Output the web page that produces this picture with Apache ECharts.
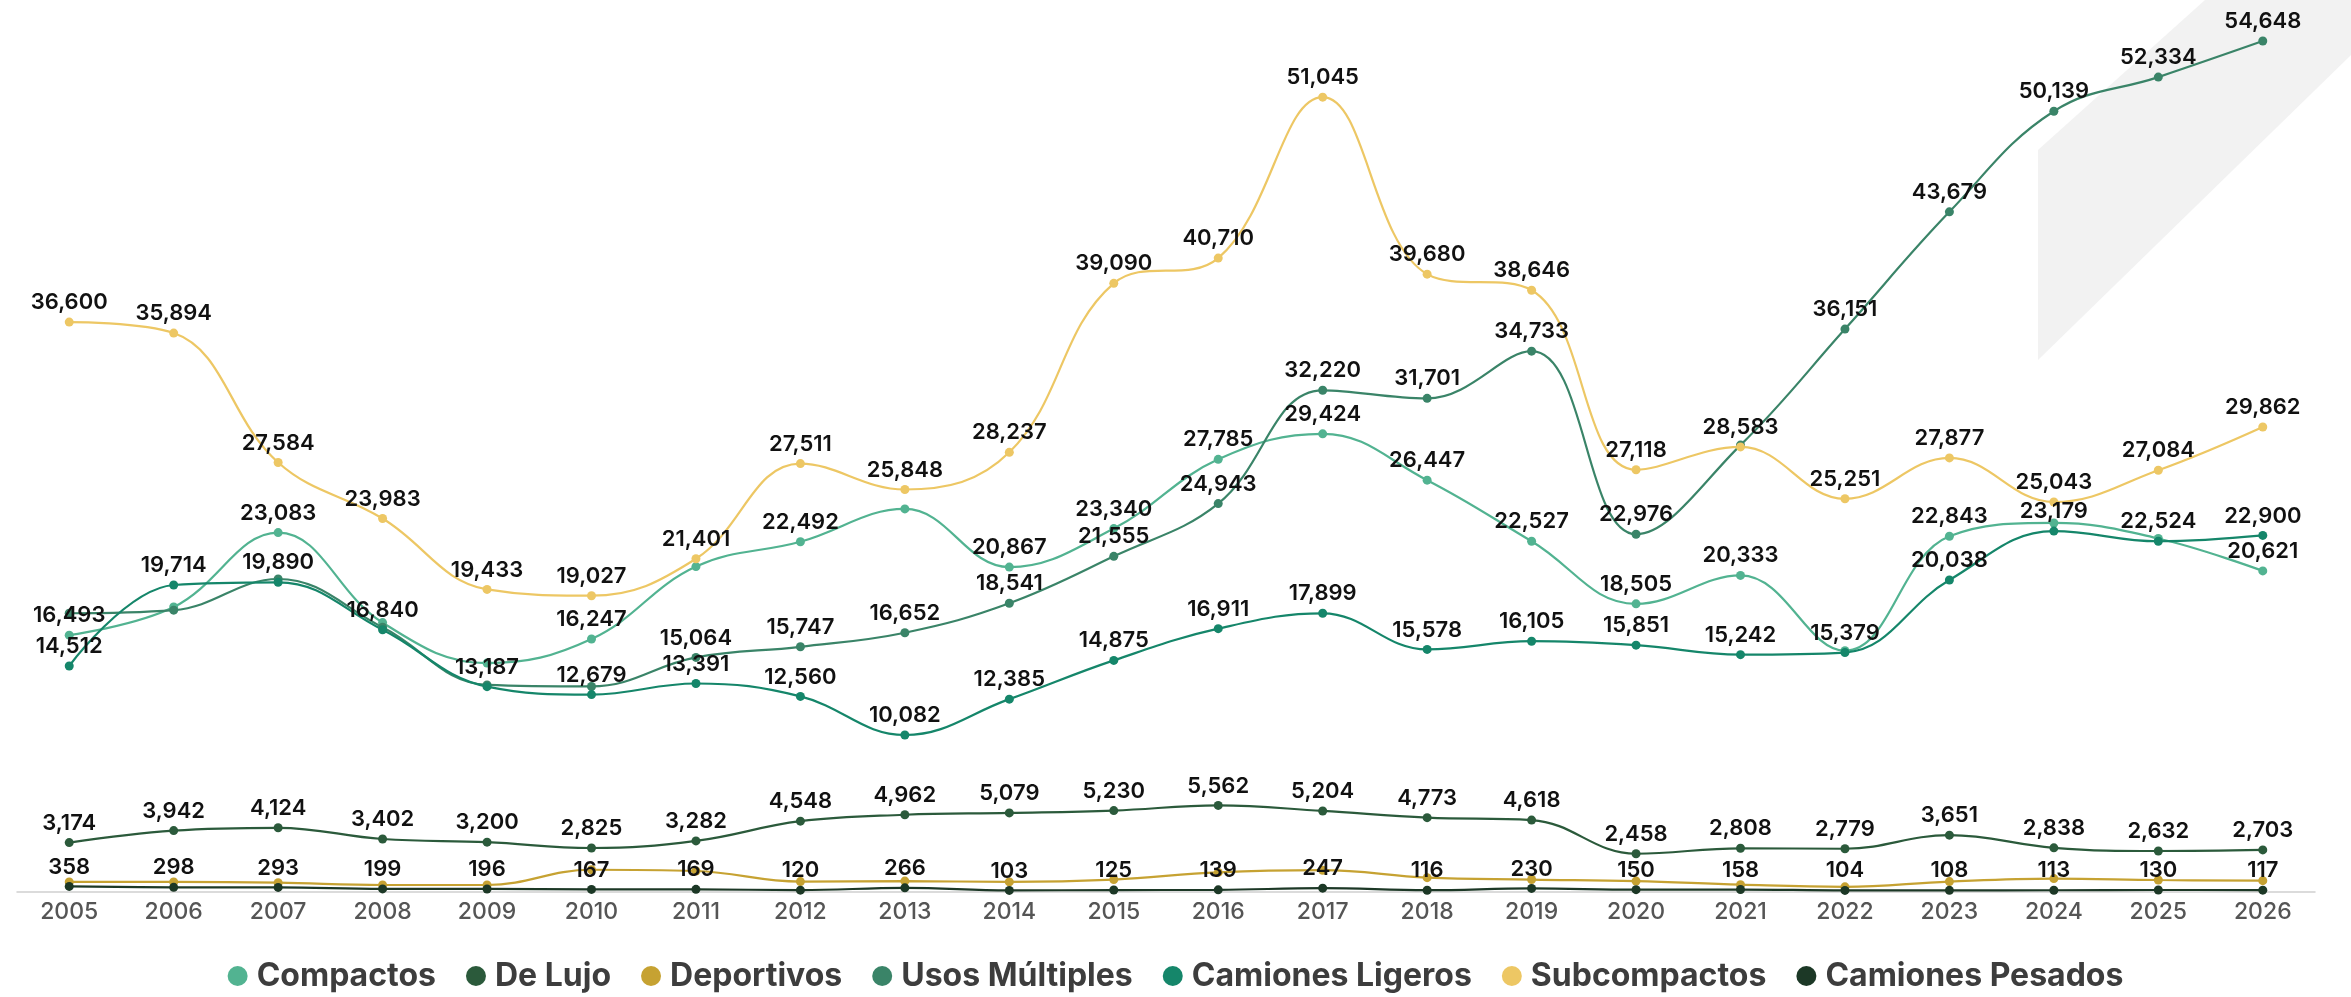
<!DOCTYPE html>
<html>
<head>
<meta charset="utf-8">
<script src="https://cdn.jsdelivr.net/npm/echarts@6/dist/echarts.min.js"></script>
<style>
html,body{margin:0;padding:0;background:#fff;}
#chart{width:2351px;height:997px;}
</style>
</head>
<body>
<div id="chart"></div>
<script>
const years = ['2005','2006','2007','2008','2009','2010','2011','2012','2013','2014','2015','2016','2017','2018','2019','2020','2021','2022','2023','2024','2025','2026'];

const compactos       = [16493, 18300, 23083, 17300, 14700, 16247, 20900, 22492, 24600, 20867, 23340, 27785, 29424, 26447, 22527, 18505, 20333, 15500, 22843, 23700, 22700, 20621];
const deLujo          = [3174, 3942, 4124, 3402, 3200, 2825, 3282, 4548, 4962, 5079, 5230, 5562, 5204, 4773, 4618, 2458, 2808, 2779, 3651, 2838, 2632, 2703];
const deportivos      = [650, 650, 600, 450, 450, 1430, 1350, 670, 700, 650, 800, 1260, 1400, 920, 800, 700, 470, 330, 670, 860, 770, 730];
const usosMultiples   = [17900, 18100, 20100, 17000, 13300, 13200, 15064, 15747, 16652, 18541, 21555, 24943, 32220, 31701, 34733, 22976, 28700, 36151, 43679, 50139, 52334, 54648];
const camionesLigeros = [14512, 19714, 19890, 16840, 13187, 12679, 13391, 12560, 10082, 12385, 14875, 16911, 17899, 15578, 16105, 15851, 15242, 15379, 20038, 23179, 22524, 22900];
const subcompactos    = [36600, 35894, 27584, 23983, 19433, 19027, 21401, 27511, 25848, 28237, 39090, 40710, 51045, 39680, 38646, 27118, 28583, 25251, 27877, 25043, 27084, 29862];
const camionesPesados = [358, 298, 293, 199, 196, 167, 169, 120, 266, 103, 125, 139, 247, 116, 230, 150, 158, 104, 108, 113, 130, 117];

// years whose value label is not shown in the reference (overlaps)
const hiddenLabelYears = {
  'Compactos': ['2006','2008','2009','2011','2013','2022','2024','2025'],
  'Usos Múltiples': ['2005','2006','2007','2008','2009','2010','2021'],
  'Deportivos': years
};

const seriesDefs = [
  {name:'Compactos', data:compactos, color:'#52b391'},
  {name:'De Lujo', data:deLujo, color:'#2b5a3b'},
  {name:'Deportivos', data:deportivos, color:'#c6a232'},
  {name:'Usos Múltiples', data:usosMultiples, color:'#3a8468'},
  {name:'Camiones Ligeros', data:camionesLigeros, color:'#15866a'},
  {name:'Subcompactos', data:subcompactos, color:'#edc764'},
  {name:'Camiones Pesados', data:camionesPesados, color:'#1c3826'}
];

const chart = echarts.init(document.getElementById('chart'));
const fmt = v => Number(v).toLocaleString('en-US');

const series = seriesDefs.map(s => {
  const hidden = hiddenLabelYears[s.name] || [];
  return {
    name: s.name,
    type: 'line',
    smooth: 0.4,
    symbol: 'circle',
    symbolSize: 9,
    color: s.color,
    lineStyle: {width: 2.2, color: s.color},
    itemStyle: {color: s.color},
    label: {
      show: true, position: 'top', distance: 4,
      color: '#111', fontFamily: 'Inter', fontWeight: 600, fontSize: 22,
      formatter: p => fmt(p.value)
    },
    emphasis: {disabled: true},
    data: s.data.map((v, i) => hidden.includes(years[i]) ? {value: v, label: {show: false}} : v)
  };
});

chart.setOption({
  backgroundColor: '#ffffff',
  animation: false,
  graphic: [{
    type: 'polygon', z: -10, silent: true,
    shape: {points: [[2038,150],[2205,0],[2351,0],[2351,55],[2038,360]]},
    style: {fill: '#f2f2f2'}
  }],
  grid: {left: 17, right: 36, top: 20, bottom: 105, containLabel: false},
  legend: {
    bottom: 0, left: 'center',
    icon: 'circle', itemWidth: 20, itemHeight: 20, itemGap: 30,
    textStyle: {fontFamily: 'Inter', fontWeight: 700, fontSize: 32, color: '#3d3d3d', padding: [0,0,0,4]},
    data: seriesDefs.map(s => s.name)
  },
  xAxis: {
    type: 'category', data: years, boundaryGap: true,
    axisLine: {show: true, lineStyle: {color: '#cfcfcf', width: 1.5}},
    axisTick: {show: false},
    axisLabel: {color: '#555', fontFamily: 'Inter', fontWeight: 500, fontSize: 23, margin: 9}
  },
  yAxis: {
    type: 'value', min: 0, max: 56000, show: false,
    splitLine: {show: false}
  },
  series: series
});
</script>
</body>
</html>
